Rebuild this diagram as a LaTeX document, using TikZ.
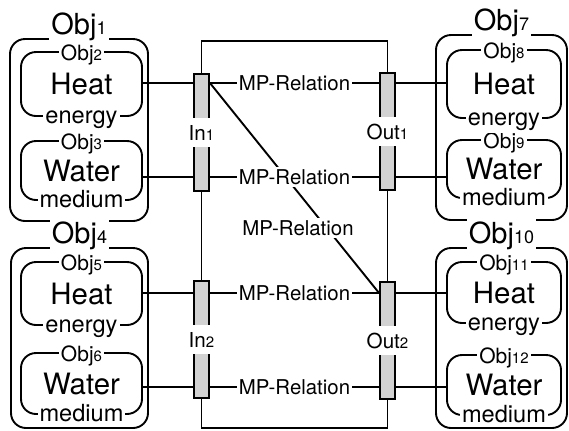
\documentclass[tikz,border=0pt]{standalone}
\usepackage{fontspec}
\setmainfont{TeX Gyre Heros}
\usetikzlibrary{fit}

\newcommand\bigno[1]{{\fontsize{9}{10}\selectfont #1}}
\newcommand\smallno[1]{{\fontsize{7.5}{9}\selectfont #1}}

\tikzset{
  outerbox/.style={draw, line width=0.95pt, rounded corners=7.5pt, inner sep=0pt},
  innerbox/.style={draw, line width=0.95pt, rounded corners=7.5pt, inner sep=0pt},
  objtag/.style={fill=white, inner sep=1pt, anchor=base, font=\fontsize{14.5}{16}\selectfont},
  subtag/.style={fill=white, inner sep=1pt, anchor=base, font=\fontsize{10.5}{12}\selectfont},
  kind/.style={font=\fontsize{14.7}{16}\selectfont},
  role/.style={fill=white, inner sep=1pt, anchor=base, font=\fontsize{11.8}{13}\selectfont},
  port/.style={draw, line width=0.95pt, fill=gray!35, inner sep=0pt},
  portlabel/.style={fill=white, inner xsep=0.5pt, inner ysep=3.5pt, font=\fontsize{10.3}{12}\selectfont},
  rel/.style={fill=white, inner sep=1pt, font=\fontsize{10.2}{12}\selectfont},
  link/.style={line width=0.95pt}
}

\begin{document}
\begin{tikzpicture}[x=0.5pt,y=-0.5pt]
  \useasboundingbox (0,0) rectangle (569,430);
  % rows of the connectors
  \coordinate (r1) at (0,83);
  \coordinate (r2) at (0,177);
  \coordinate (r3) at (0,293);
  \coordinate (r4) at (0,387);

  % left objects
  \node[outerbox, fit={(10,39) (148,221)}] (obj1) {};
  \node[innerbox, fit={(21,52) (142,116)}] (obj2) {};
  \node[innerbox, fit={(21,141) (142,200)}] (obj3) {};
  \node[outerbox, fit={(11,248) (148,428)}] (obj4) {};
  \node[innerbox, fit={(21,262) (142,325)}] (obj5) {};
  \node[innerbox, fit={(21,353) (142,414)}] (obj6) {};

  % right objects
  \node[outerbox, fit={(436,35) (567,220)}] (obj7) {};
  \node[innerbox, fit={(447,50) (561,118)}] (obj8) {};
  \node[innerbox, fit={(447,140) (561,198)}] (obj9) {};
  \node[outerbox, fit={(436,248) (567,428)}] (obj10) {};
  \node[innerbox, fit={(447,262) (561,323)}] (obj11) {};
  \node[innerbox, fit={(447,355) (561,415)}] (obj12) {};

  % ports
  \node[port, fit={(194,74) (209,191)}] (in1) {};
  \node[port, fit={(194,281) (209,398)}] (in2) {};
  \node[port, fit={(380,73) (395,190)}] (out1) {};
  \node[port, fit={(380,282) (395,399)}] (out2) {};

  % frame between the ports
  \draw[link] (in1.north) -- ++(0,-32) -| (out1.north);
  \draw[link] (in2.south) -- ++(0,29) -| (out2.south);
  \draw[link] (in1.south) -- (in2.north);
  \draw[link] (out1.south) -- (out2.north);

  % objects to ports
  \draw[link] (obj2.east |- r1) -- (in1.west |- r1);
  \draw[link] (obj3.east |- r2) -- (in1.west |- r2);
  \draw[link] (obj5.east |- r3) -- (in2.west |- r3);
  \draw[link] (obj6.east |- r4) -- (in2.west |- r4);
  \draw[link] (out1.east |- r1) -- (obj8.west |- r1);
  \draw[link] (out1.east |- r2) -- (obj9.west |- r2);
  \draw[link] (out2.east |- r3) -- (obj11.west |- r3);
  \draw[link] (out2.east |- r4) -- (obj12.west |- r4);

  % relations
  \draw[link] (in1.east |- r1) -- (out2.west |- r3);
  \node[rel] (rel5) at (298,228) {MP-Relation};
  \draw[link] (in1.east |- r1) -- node[rel] (rel1) {MP-Relation} (out1.west |- r1);
  \draw[link] (in1.east |- r2) -- node[rel] (rel2) {MP-Relation} (out1.west |- r2);
  \draw[link] (in2.east |- r3) -- node[rel] (rel3) {MP-Relation} (out2.west |- r3);
  \draw[link] (in2.east |- r4) -- node[rel] (rel4) {MP-Relation} (out2.west |- r4);

  % port names
  \node[portlabel] (in1name) at (in1) {In\smallno{1}};
  \node[portlabel] (in2name) at (in2) {In\smallno{2}};
  \node[portlabel] (out1name) at (out1) {Out\smallno{1}};
  \node[portlabel] (out2name) at (out2) {Out\smallno{2}};

  % object names
  \node[objtag, yshift=2pt] (t1) at (obj1.north) {Obj\bigno{1}};
  \node[objtag, yshift=2pt] (t4) at (obj4.north) {Obj\bigno{4}};
  \node[objtag, yshift=2pt] (t7) at (obj7.north) {Obj\bigno{7}};
  \node[objtag, yshift=2pt] (t10) at (obj10.north) {Obj\bigno{10}};
  \node[subtag, yshift=-4.5pt] (t2) at (obj2.north) {Obj\smallno{2}};
  \node[subtag, yshift=-4.5pt] (t3) at (obj3.north) {Obj\smallno{3}};
  \node[subtag, yshift=-4.5pt] (t5) at (obj5.north) {Obj\smallno{5}};
  \node[subtag, yshift=-4.5pt] (t6) at (obj6.north) {Obj\smallno{6}};
  \node[subtag, yshift=-4.5pt] (t8) at (obj8.north) {Obj\smallno{8}};
  \node[subtag, yshift=-4.5pt] (t9) at (obj9.north) {Obj\smallno{9}};
  \node[subtag, yshift=-4.5pt] (t11) at (obj11.north) {Obj\smallno{11}};
  \node[subtag, yshift=-4.5pt] (t12) at (obj12.north) {Obj\smallno{12}};

  % kinds and roles
  \foreach \o/\k/\r in {obj2/Heat/energy, obj3/Water/medium, obj5/Heat/energy,
                        obj6/Water/medium, obj8/Heat/energy, obj9/Water/medium,
                        obj11/Heat/energy, obj12/Water/medium}{
    \node[kind] (\o-kind) at (\o) {\k};
    \node[role, yshift=-3.5pt] (\o-role) at (\o.south) {\r};
  }
\end{tikzpicture}
\end{document}
